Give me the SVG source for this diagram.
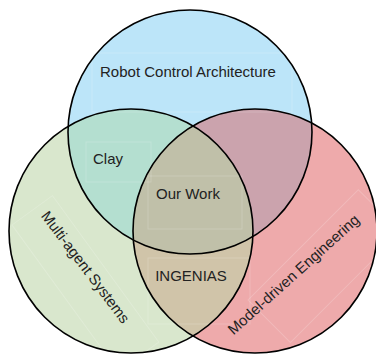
<svg xmlns="http://www.w3.org/2000/svg" width="376" height="354" viewBox="0 0 376 354">
<style>
.lbl{font-family:"Liberation Sans",Arial,sans-serif;font-size:15px;fill:#222;}
.mid{text-anchor:middle;}
.ring{fill:none;stroke:#000;stroke-width:1.6;}
.box{fill:none;stroke:#fff;stroke-opacity:0.18;stroke-width:1;}
</style>
<defs>
<clipPath id="cT"><circle cx="190" cy="132" r="122"/></clipPath>
<clipPath id="cL"><circle cx="131" cy="231" r="122"/></clipPath>
<clipPath id="cR"><circle cx="255" cy="231" r="122"/></clipPath>
</defs>
<rect width="376" height="354" fill="#fff"/>
<g id="set-fills">
<circle cx="190" cy="132" r="122" fill="#bce5f9"/>
<circle cx="131" cy="231" r="122" fill="#d9e7cd"/>
<circle cx="255" cy="231" r="122" fill="#eeaaab"/>
</g>
<g id="overlap-fills">
<circle cx="131" cy="231" r="122" fill="#b4dfd0" clip-path="url(#cT)"/>
<circle cx="255" cy="231" r="122" fill="#cba3ad" clip-path="url(#cT)"/>
<circle cx="255" cy="231" r="122" fill="#d0c4a9" clip-path="url(#cL)"/>
<g clip-path="url(#cT)"><circle cx="255" cy="231" r="122" fill="#c0c0a9" clip-path="url(#cL)"/></g>
</g>
<g id="text-boxes">
<rect class="box" x="92" y="53" width="200" height="59"/>
<rect class="box" x="86" y="142" width="65" height="40"/>
<rect class="box" x="148" y="176" width="94" height="53"/>
<rect class="box" x="148" y="258" width="102" height="66"/>
<rect class="box" x="0" y="-50" width="181" height="50" transform="translate(12,225) rotate(54)"/>
<rect class="box" x="0" y="0" width="156" height="60" transform="translate(248,300) rotate(-45)"/>
</g>
<g id="outlines">
<circle class="ring" cx="190" cy="132" r="122"/>
<circle class="ring" cx="131" cy="231" r="122"/>
<circle class="ring" cx="255" cy="231" r="122"/>
</g>
<g id="connectors"></g>
<g id="robot-control-architecture"><text class="lbl mid" x="188" y="76.5">Robot Control Architecture</text></g>
<g id="multi-agent-systems"><text class="lbl mid" x="0" y="4.5" transform="translate(85,267.5) rotate(53)">Multi-agent Systems</text></g>
<g id="model-driven-engineering"><text class="lbl mid" x="0" y="4.5" transform="translate(294,275) rotate(-42)">Model-driven Engineering</text></g>
<g id="clay"><text class="lbl mid" x="108" y="164">Clay</text></g>
<g id="our-work"><text class="lbl mid" x="188" y="198.5">Our Work</text></g>
<g id="ingenias"><text class="lbl mid" x="191" y="280.5">INGENIAS</text></g>
</svg>
